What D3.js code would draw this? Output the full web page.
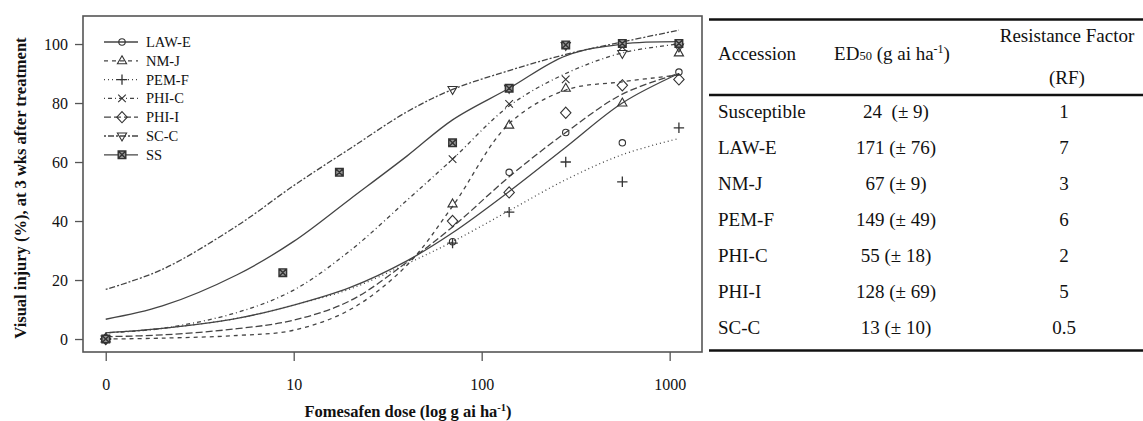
<!DOCTYPE html>
<html>
<head>
<meta charset="utf-8">
<script src="https://cdn.jsdelivr.net/npm/d3@7"></script>
<style>
  html, body { margin: 0; padding: 0; background: #fff; }
  svg { display: block; }
  text { font-family: "Liberation Serif", "Times New Roman", serif; fill: #111; }
</style>
</head>
<body>
<svg id="chart" width="1143" height="421"></svg>
<script>
// ---------------- data ----------------
const accessions = ["LAW-E", "NM-J", "PEM-F", "PHI-C", "PHI-I", "SC-C", "SS"];

// observed doses (g ai/ha); 0 is plotted at the position of 1 on the log axis
const obsDoses   = [0, 70, 140, 280, 560, 1120];
const ssDoses    = [0, 8.75, 17.5, 70, 140, 280, 560, 1120];
const obsLAWE = [0, 33, 56.5, 70, 66.5, 90.5];
const obsNMJ  = [0, 45.8, 72.5, 85, 80, 97];
const obsPEMF = [0, 32.5, 43, 60, 53.3, 71.6];
const obsPHIC = [0, 61, 79.7, 88, 99, 100];
const obsPHII = [0, 40, 49.7, 76.7, 86, 88];
const obsSCC  = [0, 84.6, 85, 99.5, 96.8, 99];
const obsSS   = [0, 22.5, 56.5, 66.5, 85, 99.7, 100.2, 100.2];

// fitted curves at these doses
const curveDoses = [1, 2, 5, 10, 20, 40, 70, 140, 280, 560, 1120];
const curveLAWE = [2.1, 3.6, 7.0, 11.5, 17.5, 26.5, 36, 50, 65, 80, 90];
const curveNMJ  = [0, 0.3, 1.2, 3, 10, 25, 45, 73, 84.4, 87.2, 89.5];
const curvePEMF = [2.1, 3.6, 7.0, 11.5, 17, 25.5, 33, 43.5, 54, 62.5, 68];
const curvePHIC = [2.1, 3.6, 9, 16.6, 30, 47, 61, 79, 90, 97, 100];
const curvePHII = [0.8, 1.4, 3.5, 6.4, 13, 26, 38, 55, 70, 83, 90];
const curveSCC  = [16.8, 23.6, 38.4, 52, 64.6, 77, 84.6, 91, 96.5, 100.7, 104.7];
const curveSS   = [6.7, 11.2, 21.8, 33.1, 47.5, 62, 74.3, 85, 96, 100, 100.8];

const xTickValues = [1, 10, 100, 1000];
const xTickLabels = ["0", "10", "100", "1000"];
const yTickValues = [0, 20, 40, 60, 80, 100];

// table
const tableAccession = ["Susceptible", "LAW-E", "NM-J", "PEM-F", "PHI-C", "PHI-I", "SC-C"];
const tableED50 = ["24\u00A0 (\u00B1 9)", "171 (\u00B1 76)", "67 (\u00B1 9)", "149 (\u00B1 49)", "55 (\u00B1 18)", "128 (\u00B1 69)", "13 (\u00B1 10)"];
const tableRF = ["1", "7", "3", "6", "2", "5", "0.5"];

// ---------------- styles ----------------
const seriesStyle = {
  "LAW-E": { dash: null,        marker: "circle" },
  "NM-J":  { dash: "4,4",       marker: "triUp" },
  "PEM-F": { dash: "1,3",       marker: "plus" },
  "PHI-C": { dash: "1,3,4,3",   marker: "cross" },
  "PHI-I": { dash: "7,3",       marker: "diamond" },
  "SC-C":  { dash: "2,2,6,2",   marker: "triDown" },
  "SS":    { dash: null,        marker: "squareX" }
};
const obsBySeries = {
  "LAW-E": [obsDoses, obsLAWE], "NM-J": [obsDoses, obsNMJ], "PEM-F": [obsDoses, obsPEMF],
  "PHI-C": [obsDoses, obsPHIC], "PHI-I": [obsDoses, obsPHII], "SC-C": [obsDoses, obsSCC],
  "SS": [ssDoses, obsSS]
};
const curveBySeries = {
  "LAW-E": curveLAWE, "NM-J": curveNMJ, "PEM-F": curvePEMF, "PHI-C": curvePHIC,
  "PHI-I": curvePHII, "SC-C": curveSCC, "SS": curveSS
};

// ---------------- drawing ----------------
const svg = d3.select("#chart");
const box = { left: 83, top: 16, right: 702, bottom: 352 };

const x = d3.scaleLog().domain([0.757, 1486]).range([box.left, box.right]);
const y = d3.scaleLinear().domain([-4.4, 109.5]).range([box.bottom, box.top]);
const xPos = d => x(d === 0 ? 1 : d);

const lineColor = "#444";

// axes
const xAxis = d3.axisBottom(x).tickValues(xTickValues)
  .tickFormat((d, i) => xTickLabels[i]).tickSize(9).tickPadding(18);
const gx = svg.append("g").attr("transform", `translate(0,${box.bottom})`).call(xAxis);
gx.select(".domain").remove();
gx.selectAll(".tick line").attr("stroke", "#555").attr("stroke-width", 1.3);
gx.selectAll(".tick text").attr("font-size", 16).attr("font-family", "Liberation Serif").attr("fill", "#111");

const yAxis = d3.axisLeft(y).tickValues(yTickValues).tickSize(8).tickPadding(7);
const gy = svg.append("g").attr("transform", `translate(${box.left},0)`).call(yAxis);
gy.select(".domain").remove();
gy.selectAll(".tick line").attr("stroke", "#555").attr("stroke-width", 1.3);
gy.selectAll(".tick text").attr("font-size", 16).attr("font-family", "Liberation Serif").attr("fill", "#111");

// plot frame
svg.append("rect")
  .attr("x", box.left).attr("y", box.top)
  .attr("width", box.right - box.left).attr("height", box.bottom - box.top)
  .attr("fill", "none").attr("stroke", "#555").attr("stroke-width", 1.6);

// axis titles
const xt = svg.append("text").attr("x", 408).attr("y", 417)
  .attr("text-anchor", "middle").attr("font-size", 16.5).attr("font-weight", "bold");
xt.append("tspan").text("Fomesafen dose (log g ai ha");
xt.append("tspan").attr("font-size", 10.5).attr("dy", -6).text("-1");
xt.append("tspan").attr("dy", 6).text(")");

svg.append("text")
  .attr("transform", "translate(26,188) rotate(-90)")
  .attr("text-anchor", "middle").attr("font-size", 16.5).attr("font-weight", "bold")
  .text("Visual injury (%), at 3 wks after treatment");

// markers
function drawMarker(g, type, cx, cy) {
  const s = { fill: "none", stroke: "#333", "stroke-width": 1.1 };
  let el;
  switch (type) {
    case "circle":
      el = g.append("circle").attr("cx", cx).attr("cy", cy).attr("r", 3.2); break;
    case "triUp":
      el = g.append("path").attr("d", `M${cx},${cy - 5}L${cx + 4.6},${cy + 3}L${cx - 4.6},${cy + 3}Z`); break;
    case "triDown":
      el = g.append("path").attr("d", `M${cx},${cy + 5}L${cx + 4.6},${cy - 3}L${cx - 4.6},${cy - 3}Z`); break;
    case "plus":
      el = g.append("path").attr("d", `M${cx - 5.2},${cy}H${cx + 5.2}M${cx},${cy - 5.2}V${cy + 5.2}`); s["stroke-width"] = 1.3; break;
    case "cross":
      el = g.append("path").attr("d", `M${cx - 3.8},${cy - 3.8}L${cx + 3.8},${cy + 3.8}M${cx - 3.8},${cy + 3.8}L${cx + 3.8},${cy - 3.8}`); break;
    case "diamond":
      el = g.append("path").attr("d", `M${cx},${cy - 5.6}L${cx + 5.2},${cy}L${cx},${cy + 5.6}L${cx - 5.2},${cy}Z`); break;
    case "squareX":
      el = g.append("path").attr("d",
        `M${cx - 3.8},${cy - 3.8}H${cx + 3.8}V${cy + 3.8}H${cx - 3.8}Z` +
        `M${cx - 3.8},${cy - 3.8}L${cx + 3.8},${cy + 3.8}M${cx - 3.8},${cy + 3.8}L${cx + 3.8},${cy - 3.8}`);
      s["stroke-width"] = 1.4; s.fill = "#999"; break;
  }
  Object.entries(s).forEach(([k, v]) => el.attr(k, v));
}

// curves
const line = d3.line().x(d => x(d[0])).y(d => y(d[1])).curve(d3.curveCatmullRom.alpha(0.5));
const gCurves = svg.append("g");
accessions.forEach(name => {
  const vals = curveBySeries[name];
  const pts = curveDoses.map((d, i) => [d, vals[i]]);
  const p = gCurves.append("path").attr("d", line(pts))
    .attr("fill", "none").attr("stroke", lineColor).attr("stroke-width", 1.3);
  if (seriesStyle[name].dash) p.attr("stroke-dasharray", seriesStyle[name].dash);
});

// observed points
const gPts = svg.append("g");
accessions.forEach(name => {
  const [ds, vs] = obsBySeries[name];
  ds.forEach((d, i) => drawMarker(gPts, seriesStyle[name].marker, xPos(d), y(vs[i])));
});

// legend
const legY0 = 42, legStep = 18.8;
const gLeg = svg.append("g");
accessions.forEach((name, i) => {
  const ly = legY0 + i * legStep;
  const l = gLeg.append("line").attr("x1", 104).attr("x2", 138).attr("y1", ly).attr("y2", ly)
    .attr("stroke", lineColor).attr("stroke-width", 1.3);
  if (seriesStyle[name].dash) l.attr("stroke-dasharray", seriesStyle[name].dash);
  drawMarker(gLeg, seriesStyle[name].marker, 122, ly);
  gLeg.append("text").attr("x", 146).attr("y", ly).attr("dy", "0.35em")
    .attr("font-size", 14.5).text(name);
});

// ---------------- table ----------------
const tX0 = 709, tX1 = 1143;
const gT = svg.append("g");
[19.5, 95, 350.5].forEach(yy => {
  gT.append("line").attr("x1", tX0).attr("x2", tX1).attr("y1", yy).attr("y2", yy)
    .attr("stroke", "#111").attr("stroke-width", 2.6);
});
const tFont = 19;
gT.append("text").attr("x", 718).attr("y", 60).attr("font-size", tFont).text("Accession");
const edh = gT.append("text").attr("x", 892).attr("y", 60).attr("font-size", tFont).attr("text-anchor", "middle");
edh.append("tspan").text("ED");
edh.append("tspan").attr("font-size", 12.5).text("50");
edh.append("tspan").text(" (g ai ha");
edh.append("tspan").attr("font-size", 12).attr("dy", -7).text("-1");
edh.append("tspan").attr("dy", 7).text(")");
gT.append("text").attr("x", 1067).attr("y", 41.5).attr("font-size", tFont).attr("text-anchor", "middle").text("Resistance Factor");
gT.append("text").attr("x", 1067).attr("y", 84).attr("font-size", tFont).attr("text-anchor", "middle").text("(RF)");

tableAccession.forEach((a, i) => {
  const by = 117.5 + i * 36;
  gT.append("text").attr("x", 718).attr("y", by).attr("font-size", tFont).text(a);
  gT.append("text").attr("x", 896).attr("y", by).attr("font-size", tFont).attr("text-anchor", "middle").text(tableED50[i]);
  gT.append("text").attr("x", 1064).attr("y", by).attr("font-size", tFont).attr("text-anchor", "middle").text(tableRF[i]);
});
</script>
</body>
</html>
